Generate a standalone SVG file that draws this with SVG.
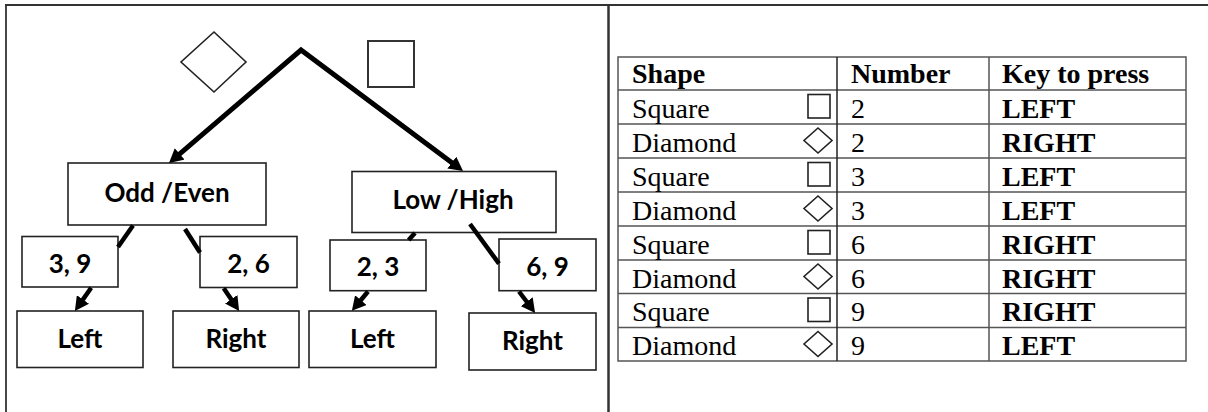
<svg xmlns="http://www.w3.org/2000/svg" width="1208" height="412" viewBox="0 0 1208 412">
  <style>
    .frame { stroke: #333; stroke-width: 1.8; fill: none; }
    .box { fill: #fff; stroke: #222; stroke-width: 1.6; }
    .lbl { font-family: Lato, "Liberation Sans", sans-serif; font-weight: bold; font-size: 26px; fill: #000; text-anchor: middle; }
    .conn { stroke: #000; fill: none; stroke-linecap: butt; }
    .thick { stroke-width: 5; }
    .mid { stroke-width: 4.5; }
    .grid { stroke: #555; stroke-width: 1.5; fill: none; }
    .colsep { stroke: #222; stroke-width: 1.5; }
    .cell { font-family: "Liberation Serif", "Times New Roman", serif; font-size: 28px; fill: #000; }
    .hdr { font-weight: bold; }
    .key { font-weight: bold; }
    .ico { fill: none; stroke: #222; stroke-width: 1.6; }
  </style>
  <defs>
    <marker id="arr" viewBox="0 0 14 15" refX="6" refY="7.5" markerWidth="14" markerHeight="15" markerUnits="userSpaceOnUse" orient="auto-start-reverse">
      <path d="M0,0 L14,7.5 L0,15 z" fill="#000"/>
    </marker>
  </defs>

  <!-- frame -->
  <g id="frame">
    <line class="frame" x1="5" y1="5" x2="1208" y2="5"/>
    <line class="frame" x1="6" y1="5" x2="6" y2="412"/>
    <line class="frame" x1="608.5" y1="5" x2="608.5" y2="412" style="stroke-width:2.5"/>
  </g>

  <!-- top shape icons -->
  <g id="diamond-icon">
    <polygon class="ico" points="214,32 246,62 214,92 181,62"/>
  </g>
  <g id="square-icon">
    <rect x="368" y="41" width="46" height="46" fill="none" stroke="#333" stroke-width="2"/>
  </g>

  <!-- nodes -->
  <g id="odd-even">
    <rect class="box" x="68" y="163" width="198" height="62"/>
    <text class="lbl" x="167" y="201.5">Odd /Even</text>
  </g>
  <g id="low-high">
    <rect class="box" x="352" y="171.5" width="204" height="61"/>
    <text class="lbl" x="453" y="208.5">Low /High</text>
  </g>
  <g id="n39">
    <rect class="box" x="22" y="236.5" width="96" height="50.5"/>
    <text class="lbl" x="70" y="273">3, 9</text>
  </g>
  <g id="n26">
    <rect class="box" x="200" y="236.5" width="97" height="51"/>
    <text class="lbl" x="248.5" y="273">2, 6</text>
  </g>
  <g id="n23">
    <rect class="box" x="330" y="240" width="96" height="50.7"/>
    <text class="lbl" x="378" y="276">2, 3</text>
  </g>
  <g id="n69">
    <rect class="box" x="499" y="239" width="97" height="51.7"/>
    <text class="lbl" x="547.5" y="276">6, 9</text>
  </g>
  <g id="left1">
    <rect class="box" x="17" y="311" width="126" height="56.5"/>
    <text class="lbl" x="80" y="347.5">Left</text>
  </g>
  <g id="right1">
    <rect class="box" x="173" y="311" width="126" height="56.5"/>
    <text class="lbl" x="236" y="347.5">Right</text>
  </g>
  <g id="left2">
    <rect class="box" x="309" y="311" width="127" height="56.5"/>
    <text class="lbl" x="372.5" y="347.5">Left</text>
  </g>
  <g id="right2">
    <rect class="box" x="469" y="313" width="127" height="57"/>
    <text class="lbl" x="532.5" y="349.5">Right</text>
  </g>

  <!-- connectors -->
  <g id="connectors">
    <path class="conn thick" d="M175.1,157.8 L301,50 L456.6,166.2" stroke-linejoin="miter" marker-start="url(#arr)" marker-end="url(#arr)"/>
    <line class="conn mid" x1="133" y1="225.5" x2="118" y2="247"/>
    <line class="conn mid" x1="91.2" y1="287.8" x2="79.5" y2="304.4" marker-end="url(#arr)"/>
    <line class="conn mid" x1="185" y1="229" x2="200" y2="252.5"/>
    <line class="conn mid" x1="223.7" y1="288.3" x2="234.6" y2="304.3" marker-end="url(#arr)"/>
    <line class="conn mid" x1="415" y1="233" x2="408.6" y2="240"/>
    <line class="conn mid" x1="368" y1="291.5" x2="357" y2="304.7" marker-end="url(#arr)"/>
    <line class="conn mid" x1="470" y1="224" x2="499" y2="263.7"/>
    <line class="conn mid" x1="519" y1="291.5" x2="530.3" y2="306.5" marker-end="url(#arr)"/>
  </g>

  <!-- table -->
  <g id="table">
    <g class="grid">
      <rect x="618" y="57" width="568" height="304"/>
      <line x1="618" y1="90" x2="1186" y2="90"/>
      <line x1="618" y1="124" x2="1186" y2="124"/>
      <line x1="618" y1="158" x2="1186" y2="158"/>
      <line x1="618" y1="192" x2="1186" y2="192"/>
      <line x1="618" y1="226" x2="1186" y2="226"/>
      <line x1="618" y1="260" x2="1186" y2="260"/>
      <line x1="618" y1="293.5" x2="1186" y2="293.5"/>
      <line x1="618" y1="327.5" x2="1186" y2="327.5"/>
      <line x1="989" y1="57" x2="989" y2="361"/>
    </g>
    <line class="colsep" x1="837" y1="57" x2="837" y2="361"/>

    <text class="cell hdr" x="632" y="83">Shape</text>
    <text class="cell hdr" x="851" y="83">Number</text>
    <text class="cell hdr" x="1002" y="83">Key to press</text>

    <g id="row1"><text class="cell" x="632" y="117.5">Square</text><rect class="ico" x="808" y="94.5" width="22" height="23.5"/><text class="cell" x="851" y="117.5">2</text><text class="cell key" x="1002" y="117.5">LEFT</text></g>
    <g id="row2"><text class="cell" x="632" y="151.5">Diamond</text><polygon class="ico" points="818,128 832,140.5 818,153 804,140.5"/><text class="cell" x="851" y="151.5">2</text><text class="cell key" x="1002" y="151.5">RIGHT</text></g>
    <g id="row3"><text class="cell" x="632" y="185.5">Square</text><rect class="ico" x="808" y="162.5" width="22" height="23.5"/><text class="cell" x="851" y="185.5">3</text><text class="cell key" x="1002" y="185.5">LEFT</text></g>
    <g id="row4"><text class="cell" x="632" y="219.5">Diamond</text><polygon class="ico" points="818,196 832,208.5 818,221 804,208.5"/><text class="cell" x="851" y="219.5">3</text><text class="cell key" x="1002" y="219.5">LEFT</text></g>
    <g id="row5"><text class="cell" x="632" y="253.5">Square</text><rect class="ico" x="808" y="230.5" width="22" height="23.5"/><text class="cell" x="851" y="253.5">6</text><text class="cell key" x="1002" y="253.5">RIGHT</text></g>
    <g id="row6"><text class="cell" x="632" y="287.5">Diamond</text><polygon class="ico" points="818,264 832,276.5 818,289 804,276.5"/><text class="cell" x="851" y="287.5">6</text><text class="cell key" x="1002" y="287.5">RIGHT</text></g>
    <g id="row7"><text class="cell" x="632" y="321">Square</text><rect class="ico" x="808" y="298" width="22" height="23.5"/><text class="cell" x="851" y="321">9</text><text class="cell key" x="1002" y="321">RIGHT</text></g>
    <g id="row8"><text class="cell" x="632" y="355">Diamond</text><polygon class="ico" points="818,331.5 832,344 818,356.5 804,344"/><text class="cell" x="851" y="355">9</text><text class="cell key" x="1002" y="355">LEFT</text></g>
  </g>
</svg>
